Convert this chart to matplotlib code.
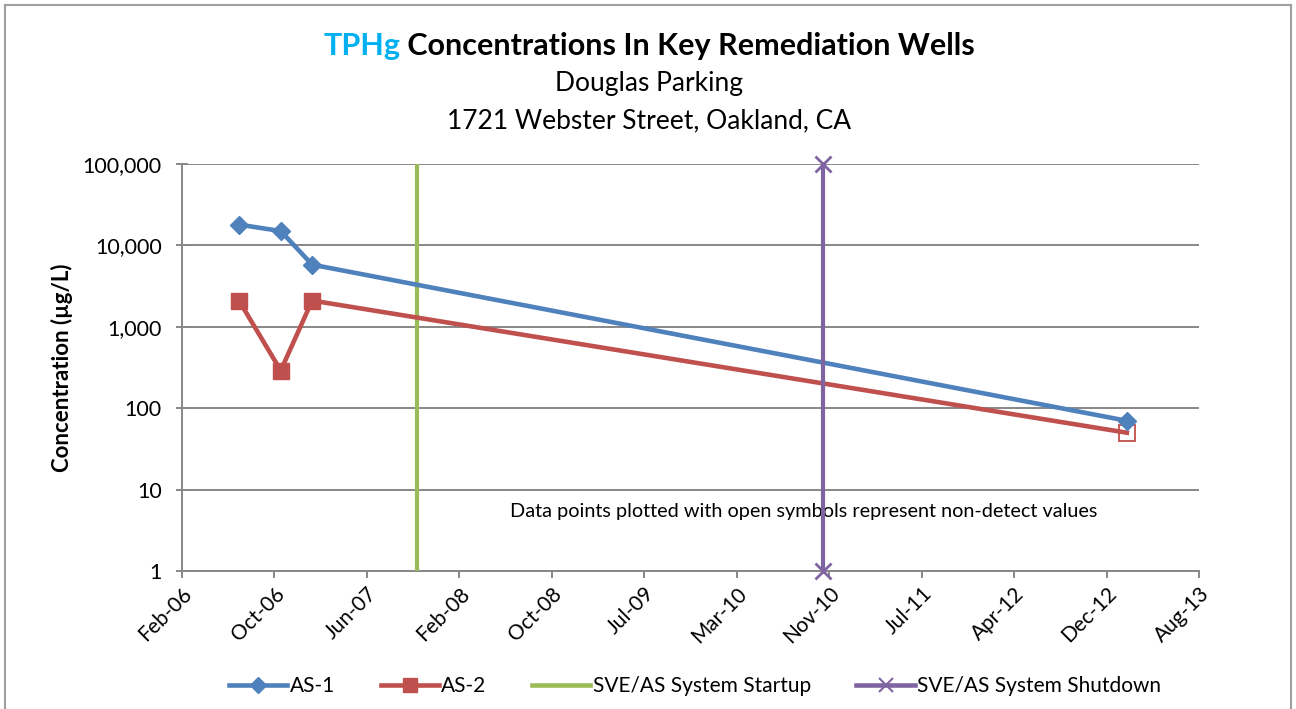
import matplotlib
matplotlib.use("Agg")
import matplotlib.pyplot as plt
import matplotlib.dates as mdates
from matplotlib.lines import Line2D
from matplotlib.ticker import FixedLocator, FuncFormatter, NullLocator
import datetime as dt

plt.rcParams['font.family'] = ['Lato', 'DejaVu Sans']

# ---- data ----
sample_dates = ["2006-07-06", "2006-10-27", "2007-01-20", "2013-01-31"]
as1_values = [18000, 15000, 5800, 70]
as2_values = [2100, 290, 2100, 50]
as2_nondetect = [False, False, False, True]
startup_date = "2007-10-30"
shutdown_date = "2010-11-01"
y_ticks = [1, 10, 100, 1000, 10000, 100000]
x_axis_start = "2006-02-02"
x_tick_step_days = 250
x_tick_count = 12
legend_labels = ["AS-1", "AS-2", "SVE/AS System Startup", "SVE/AS System Shutdown"]

BLUE = "#4F81BD"
RED = "#C0504D"
GREEN = "#9BBB59"
PURPLE = "#8064A2"
GRID = "#878787"

def d(s):
    return dt.datetime.strptime(s, "%Y-%m-%d")

dates = [d(s) for s in sample_dates]
x0 = d(x_axis_start)
xticks = [x0 + dt.timedelta(days=x_tick_step_days * k) for k in range(x_tick_count)]

fig = plt.figure(figsize=(12.96, 7.09), dpi=100)
ax = fig.add_axes([182/1296, 1-571/709, (1199-182)/1296, (571-164)/709])

ax.set_yscale('log')
ax.set_ylim(y_ticks[0], y_ticks[-1])
ax.set_xlim(xticks[0], xticks[-1])

ax.yaxis.set_major_locator(FixedLocator(y_ticks))
ax.yaxis.set_minor_locator(NullLocator())
ax.yaxis.set_major_formatter(FuncFormatter(lambda v, p: f"{int(round(v)):,}"))
ax.grid(axis='y', color=GRID, lw=1.4)
ax.set_axisbelow(True)

ax.set_xticks([mdates.date2num(t) for t in xticks])
ax.xaxis.set_major_formatter(mdates.DateFormatter('%b-%y'))
ax.xaxis.set_minor_locator(NullLocator())

for s in ['top', 'right']:
    ax.spines[s].set_visible(False)
for s in ['left', 'bottom']:
    ax.spines[s].set_color(GRID)
    ax.spines[s].set_linewidth(1.4)

ax.tick_params(axis='x', direction='out', length=5, width=1.4, color=GRID, labelsize=15, pad=4)
ax.tick_params(axis='y', direction='inout', length=9, width=1.4, color=GRID, labelsize=15.5, pad=10)
for lab in ax.get_xticklabels():
    lab.set_rotation(45)
    lab.set_ha('right')
    lab.set_va('top')
    lab.set_rotation_mode('anchor')

# vertical event lines
sd = d(startup_date)
ax.plot([sd, sd], [y_ticks[0], y_ticks[-1]], color=GREEN, lw=3.0, solid_capstyle='butt', zorder=3)
shd = d(shutdown_date)
ax.plot([shd, shd], [y_ticks[0], y_ticks[-1]], color=PURPLE, lw=3.0, marker='x', ms=11, mew=2,
        solid_capstyle='butt', zorder=6, clip_on=False)

# series
ax.plot(dates, as2_values, color=RED, lw=3.3, zorder=4,
        marker='s', ms=12, markevery=[i for i, nd in enumerate(as2_nondetect) if not nd])
nd_x = [dd for dd, nd in zip(dates, as2_nondetect) if nd]
nd_y = [v for v, nd in zip(as2_values, as2_nondetect) if nd]
ax.plot(nd_x, nd_y, ls='none', marker='s', ms=12, mfc='none', mec=RED, mew=1.3, zorder=4)
ax.plot(dates, as1_values, color=BLUE, lw=3.3, zorder=5, marker='D', ms=9.5)

ax.text(0.6116, 0.145, "Data points plotted with open symbols represent non-detect values",
        transform=ax.transAxes, ha='center', va='center', fontsize=14.3)

fig.text(62/1296, 1-368/709, "Concentration (µg/L)", rotation=90, ha='center', va='center',
         fontsize=16, fontweight='bold')

# legend
leg_handles = [
    Line2D([], [], color=BLUE, lw=3.3, marker='D', ms=8.5),
    Line2D([], [], color=RED, lw=3.3, marker='s', ms=10.5),
    Line2D([], [], color=GREEN, lw=3.3),
    Line2D([], [], color=PURPLE, lw=3.3, marker='x', ms=10, mew=1.5),
]
fig.legend(leg_handles, legend_labels, loc='center', bbox_to_anchor=(695/1296, 1-686/709), ncol=4,
           frameon=False, fontsize=15, handlelength=2.8, handletextpad=0.1, columnspacing=2.2)

# title (two colors)
fig.canvas.draw()
renderer = fig.canvas.get_renderer()
ty = 1 - 46/709
t1 = fig.text(0, ty, "TPHg", color="#00B0F0", fontsize=22, fontweight='bold', ha='left', va='center')
t2 = fig.text(0, ty, " Concentrations In Key Remediation Wells", color='black', fontsize=22,
              fontweight='bold', ha='left', va='center')
w1 = t1.get_window_extent(renderer).width
w2 = t2.get_window_extent(renderer).width
startx = 649 - (w1 + w2)/2
t1.set_x(startx/1296)
t2.set_x((startx + w1)/1296)

fig.text(649/1296, 1-84/709, "Douglas Parking", ha='center', va='center', fontsize=19)
fig.text(649/1296, 1-121/709, "1721 Webster Street, Oakland, CA", ha='center', va='center', fontsize=19)

# outer border (left, top, right)
bc = "#A0A0A0"
fig.add_artist(Line2D([5/1296, 5/1296], [0, 1-5/709], color=bc, lw=1.5, transform=fig.transFigure))
fig.add_artist(Line2D([5/1296, 1291/1296], [1-5/709, 1-5/709], color=bc, lw=1.5, transform=fig.transFigure))
fig.add_artist(Line2D([1291/1296, 1291/1296], [0, 1-5/709], color=bc, lw=1.5, transform=fig.transFigure))

fig.savefig("out.png", dpi=100)
